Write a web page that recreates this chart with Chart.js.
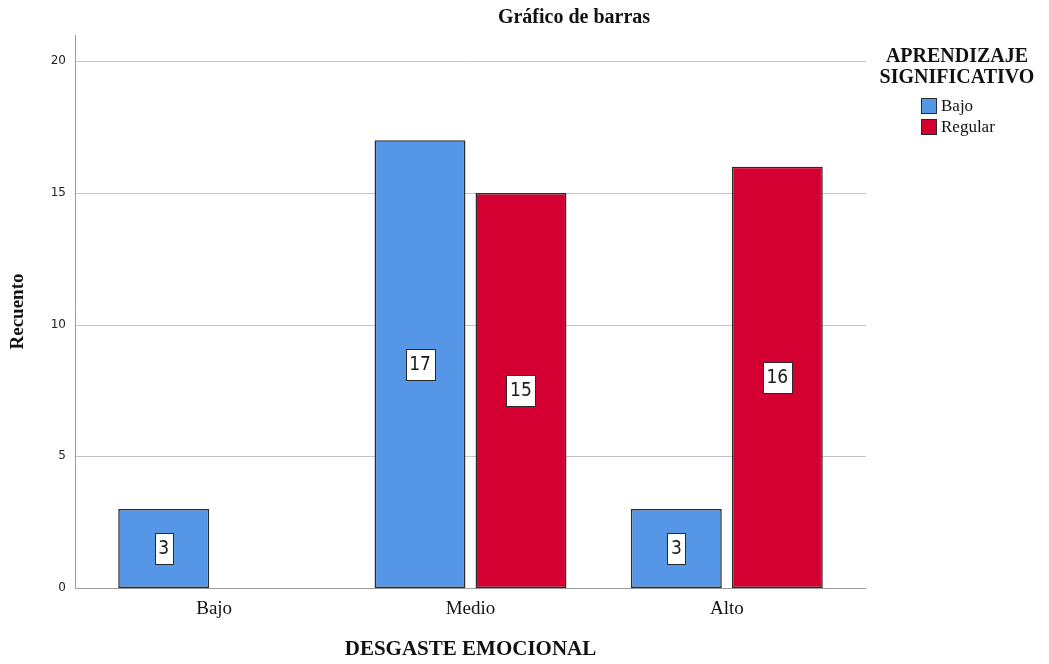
<!DOCTYPE html>
<html>
<head>
<meta charset="utf-8">
<script src="https://cdn.jsdelivr.net/npm/chart.js@4"></script>
<style>
    html, body { margin: 0; padding: 0; background: #fff; }
    #wrap { width: 1049px; height: 664px; }
</style>
</head>
<body>
<div id="wrap"><canvas id="barChart" width="1049" height="664"></canvas></div>
<script>
/* ---------------- Data ---------------- */

const categories = ["Bajo", "Medio", "Alto"];
const seriesNames = ["Bajo", "Regular"];
const bajoValues = [3, 17, 3];
const regularValues = [null, 15, 16];
const yTicks = [0, 5, 10, 15, 20];

const chartTitle = "Gráfico de barras";
const legendTitle = ["APRENDIZAJE", "SIGNIFICATIVO"];

const serif = "'Liberation Serif', 'Times New Roman', serif";
const sans = "'DejaVu Sans', Verdana, sans-serif";
const narrow = "'Liberation Sans Narrow', 'DejaVu Sans Condensed', sans-serif";

/* ---------------- Plugins ---------------- */

// grid + axis lines, slightly wider than the category area (SPSS style)
const gridPlugin = {
    id: "spssGrid",
    beforeDatasetsDraw(chart) {
        const { ctx, chartArea, scales } = chart;
        const left = chartArea.left - 11;
        const right = chartArea.right + 11;
        ctx.save();
        ctx.lineWidth = 1;
        ctx.strokeStyle = "#c4c4c4";
        yTicks.forEach(v => {
            if (v === 0) return;
            const y = Math.round(scales.y.getPixelForValue(v)) + 0.5;
            ctx.beginPath();
            ctx.moveTo(left, y);
            ctx.lineTo(right, y);
            ctx.stroke();
        });
        ctx.strokeStyle = "#9a9a9a";
        const y0 = Math.round(scales.y.getPixelForValue(0)) + 0.5;
        ctx.beginPath();
        ctx.moveTo(left + 0.5, chartArea.top);
        ctx.lineTo(left + 0.5, y0);
        ctx.lineTo(right, y0);
        ctx.stroke();
        ctx.restore();
    }
};

// value boxes in the middle of each bar
const valueBoxPlugin = {
    id: "valueBoxes",
    afterDatasetsDraw(chart) {
        const { ctx } = chart;
        ctx.save();
        ctx.font = "19px " + narrow;
        ctx.textAlign = "center";
        ctx.textBaseline = "middle";
        chart.data.datasets.forEach((ds, i) => {
            chart.getDatasetMeta(i).data.forEach((bar, j) => {
                const v = ds.data[j];
                if (v === null || v === undefined) return;
                const txt = String(v);
                const w = Math.round(ctx.measureText(txt).width + 7);
                const h = 31;
                const cx = bar.x;
                const cy = (bar.y + bar.base) / 2;
                const bx = Math.round(cx - w / 2);
                const by = Math.round(cy - h / 2);
                ctx.fillStyle = "#ffffff";
                ctx.fillRect(bx, by, w, h);
                ctx.strokeStyle = "#2a2a2a";
                ctx.lineWidth = 1;
                ctx.strokeRect(bx + 0.5, by + 0.5, w, h);
                ctx.fillStyle = "#1a1a1a";
                ctx.fillText(txt, cx, cy + 1);
            });
        });
        ctx.restore();
    }
};

// title + legend on the right
const titleLegendPlugin = {
    id: "titleLegend",
    afterDraw(chart) {
        const { ctx } = chart;
        ctx.save();
        ctx.fillStyle = "#111111";
        ctx.textAlign = "center";
        ctx.textBaseline = "middle";
        ctx.font = "bold 20px " + serif;
        ctx.fillText(chartTitle, 574, 18);

        ctx.font = "bold 20px " + serif;
        ctx.fillText(legendTitle[0], 957, 57);
        ctx.fillText(legendTitle[1], 957, 78);

        ctx.textAlign = "left";
        ctx.font = "17px " + serif;
        chart.data.datasets.forEach((ds, i) => {
            const y = 98 + i * 21;
            ctx.fillStyle = ds.backgroundColor;
            ctx.fillRect(921, y, 15, 15);
            ctx.strokeStyle = "#2a2a2a";
            ctx.lineWidth = 1;
            ctx.strokeRect(921.5, y + 0.5, 15, 15);
            ctx.fillStyle = "#111111";
            ctx.fillText(ds.label, 941, y + 9);
        });
        ctx.restore();
    }
};

/* ---------------- Chart ---------------- */

const barChart = new Chart(document.getElementById("barChart"), {
    type: "bar",
    data: {
        labels: categories,
        datasets: [
            {
                label: seriesNames[0],
                data: bajoValues,
                backgroundColor: "#5596e6",
                borderColor: "#2a2a2a",
                borderWidth: 1.5,
                borderSkipped: false
            },
            {
                label: seriesNames[1],
                data: regularValues,
                backgroundColor: "#d30031",
                borderColor: "#2a2a2a",
                borderWidth: 1.5,
                borderSkipped: false
            }
        ]
    },
    options: {
        responsive: false,
        animation: false,
        categoryPercentage: 0.788,
        barPercentage: 0.9,
        layout: { padding: { left: 0, right: 194, top: 35, bottom: 0 } },
        plugins: {
            legend: { display: false },
            title: { display: false },
            tooltip: { enabled: false }
        },
        scales: {
            x: {
                grid: { display: false, drawTicks: false },
                border: { display: false },
                ticks: {
                    color: "#111111",
                    font: { family: serif, size: 19 },
                    padding: 10
                },
                title: {
                    display: true,
                    text: "DESGASTE EMOCIONAL",
                    color: "#111111",
                    font: { family: serif, size: 21, weight: "bold" },
                    padding: { top: 4, bottom: 2 }
                },
                afterFit(scale) { scale.height = 76; }
            },
            y: {
                min: 0,
                max: 21,
                grid: { display: false, drawTicks: false },
                border: { display: false },
                ticks: {
                    stepSize: 5,
                    includeBounds: false,
                    color: "#222222",
                    font: { family: sans, size: 12 },
                    padding: 20
                },
                title: {
                    display: true,
                    text: "Recuento",
                    color: "#111111",
                    font: { family: serif, size: 19, weight: "bold" },
                    padding: { top: 7, bottom: 4 }
                },
                afterFit(scale) { scale.width = 86; }
            }
        }
    },
    plugins: [gridPlugin, valueBoxPlugin, titleLegendPlugin]
});
</script>
</body>
</html>
